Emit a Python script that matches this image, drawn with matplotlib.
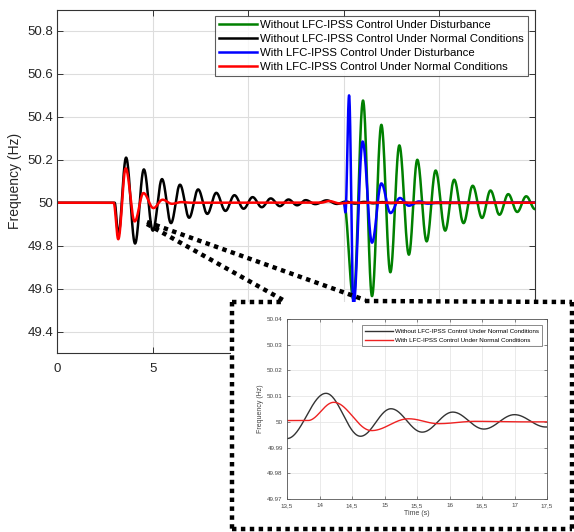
import numpy as np
import matplotlib
matplotlib.use("Agg")
import matplotlib.pyplot as plt
from matplotlib.lines import Line2D
from matplotlib.patches import Rectangle

plt.rcParams['font.family'] = ['Liberation Sans', 'DejaVu Sans']

# ---------------- data: turning points ----------------
# Without LFC-IPSS Control Under Disturbance (green)
green_t = [15.0, 15.5, 16.0, 16.47, 16.96, 17.43, 17.9, 18.4, 18.84, 19.33, 19.8,
           20.3, 20.77, 21.26, 21.74, 22.23, 22.67, 23.14, 23.6, 24.07, 24.54, 25.0]
green_f = [50.0, 49.55, 50.476, 49.565, 50.363, 49.676, 50.267, 49.758, 50.2, 49.82, 50.15,
           49.87, 50.107, 49.905, 50.079, 49.929, 50.057, 49.944, 50.04, 49.957, 50.03, 49.97]

# Without LFC-IPSS Control Under Normal Conditions (black)
black_t = [0.0, 3.0, 3.19, 3.6, 4.07, 4.53, 5.0, 5.48, 5.95, 6.42, 6.9, 7.37, 7.85, 8.32,
           8.8, 9.27, 9.75, 10.22, 10.7, 11.17, 11.65, 12.1, 12.55, 13.0, 13.5, 14.1,
           14.63, 15.1, 15.58, 16.05, 16.53, 17.0, 17.48, 17.95, 18.45, 25.0]
black_f = [50.0, 50.0, 49.85, 50.21, 49.81, 50.155, 49.87, 50.11, 49.905, 50.084, 49.93,
           50.062, 49.948, 50.046, 49.962, 50.035, 49.972, 50.026, 49.979, 50.02, 49.984,
           50.015, 49.988, 50.012, 49.9935, 50.0111, 49.9944, 50.0051, 49.996, 50.0038,
           49.9972, 50.0028, 49.998, 50.002, 49.9985, 50.0]

# With LFC-IPSS Control Under Disturbance (blue)
blue_t = [15.0, 15.08, 15.27, 15.5, 15.98, 16.47, 16.96, 17.44, 17.93, 18.4, 18.93,
          19.4, 19.9, 20.4, 25.0]
blue_f = [50.0, 49.955, 50.5, 49.52, 50.285, 49.814, 50.09, 49.952, 50.022, 49.986,
          50.006, 49.996, 50.001, 50.0, 50.0]

# With LFC-IPSS Control Under Normal Conditions (red)
red_t = [0.0, 2.95, 3.19, 3.58, 4.05, 4.51, 5.03, 5.51, 6.0, 6.5, 7.0, 13.5, 13.82,
         14.22, 14.8, 15.37, 15.83, 16.4, 17.0, 25.0]
red_f = [50.0, 50.0, 49.83, 50.16, 49.913, 50.045, 49.975, 50.014, 49.995, 50.003, 50.0,
         50.0005, 50.0005, 50.0076, 49.9966, 50.0012, 49.9993, 50.0002, 50.0, 50.0]

labels = ["Without LFC-IPSS Control Under Disturbance",
          "Without LFC-IPSS Control Under Normal Conditions",
          "With LFC-IPSS Control Under Disturbance",
          "With LFC-IPSS Control Under Normal Conditions"]

main_xticks = [0, 5, 10, 15, 20, 25]
main_yticks = [49.4, 49.6, 49.8, 50.0, 50.2, 50.4, 50.6, 50.8]
main_yticklabels = ["49.4", "49.6", "49.8", "50", "50.2", "50.4", "50.6", "50.8"]
inset_xticks = [13.5, 14, 14.5, 15, 15.5, 16, 16.5, 17, 17.5]
inset_xticklabels = ["13,5", "14", "14,5", "15", "15,5", "16", "16,5", "17", "17,5"]
inset_yticks = [49.97, 49.98, 49.99, 50.0, 50.01, 50.02, 50.03, 50.04]
inset_yticklabels = ["49.97", "49.98", "49.99", "50", "50.01", "50.02", "50.03", "50.04"]


def smooth(ts, vs, n=40):
    """Draw a smooth curve through the read turning points (half-cosine joins)."""
    out_t, out_v = [], []
    for t0, v0, t1, v1 in zip(ts[:-1], vs[:-1], ts[1:], vs[1:]):
        s = np.linspace(0, 1, n, endpoint=False)
        out_t.append(t0 + (t1 - t0) * s)
        out_v.append(v0 + (v1 - v0) * (1 - np.cos(np.pi * s)) / 2)
    out_t.append([ts[-1]])
    out_v.append([vs[-1]])
    return np.concatenate(out_t), np.concatenate(out_v)


W, H = 574, 532
fig = plt.figure(figsize=(W / 100, H / 100), dpi=100)


def fx(px):
    return px / W


def fy(py):
    return 1 - py / H


# ---------------- main axes ----------------
ax = fig.add_axes([fx(57.3), fy(353), fx(535) - fx(57.3), fy(9.5) - fy(353)])
ax.plot(*smooth(green_t, green_f), color='#008000', lw=1.8, label=labels[0])
ax.plot(*smooth(black_t, black_f), color='black', lw=1.8, label=labels[1])
ax.plot(*smooth(blue_t, blue_f), color='#0000ff', lw=1.8, label=labels[2])
ax.plot(*smooth(red_t, red_f), color='#ff0000', lw=1.8, label=labels[3])
ax.set_xlim(0, 25)
ax.set_ylim(49.3, 50.9)
ax.set_xticks(main_xticks)
ax.set_yticks(main_yticks)
ax.set_yticklabels(main_yticklabels)
ax.grid(True, color='#dddddd', lw=0.8)
ax.set_axisbelow(True)
for sp in ax.spines.values():
    sp.set_color('#333333')
    sp.set_linewidth(0.8)
ax.tick_params(direction='in', top=True, right=True, length=4, width=0.7,
               color='#333333', labelcolor='#262626', labelsize=9.5)
ax.tick_params(axis='x', pad=7)
ax.tick_params(axis='y', pad=3)
ax.set_ylabel("Frequency (Hz)", fontsize=10, color='#262626', labelpad=4)
leg = ax.legend(loc='upper right', bbox_to_anchor=(0.985, 0.982), fontsize=8.2,
                frameon=True, fancybox=False, handlelength=3.3, handletextpad=0.3,
                borderpad=0.35, labelspacing=0.35, borderaxespad=0)
leg.get_frame().set_edgecolor('#333333')
leg.get_frame().set_linewidth(0.8)

# ---------------- callout box and connector lines ----------------
lw_dot = 3.2
dash = dict(color='black', lw=lw_dot, linestyle=(0, (1, 1)), solid_capstyle='butt',
            dash_capstyle='butt', transform=fig.transFigure)
box = Rectangle((fx(231), fy(529)), fx(572) - fx(231), fy(302) - fy(529),
                transform=fig.transFigure, facecolor='white', edgecolor='none', zorder=1)
fig.add_artist(box)
segments = [
    ((232, 302), (232, 529)),
    ((232, 529), (572, 529)),
    ((572, 302), (572, 529)),
    ((232, 302), (283, 302)),
    ((365, 301), (572, 302)),
    ((147, 224), (283, 300)),
    ((147, 222), (365, 300)),
]
for (x0, y0), (x1, y1) in segments:
    fig.add_artist(Line2D([fx(x0), fx(x1)], [fy(y0), fy(y1)], zorder=1.5, **dash))

# ---------------- inset axes ----------------
ins = fig.add_axes([fx(287), fy(499), fx(547) - fx(287), fy(319) - fy(499)], zorder=2)
ins.plot(*smooth(black_t, black_f, 80), color='#333333', lw=1.0, label=labels[1])
ins.plot(*smooth(red_t, red_f, 80), color='#ee2222', lw=1.0, label=labels[3])
ins.set_xlim(13.5, 17.5)
ins.set_ylim(49.97, 50.04)
ins.set_xticks(inset_xticks)
ins.set_xticklabels(inset_xticklabels)
ins.set_yticks(inset_yticks)
ins.set_yticklabels(inset_yticklabels)
ins.grid(True, color='#e6e6e6', lw=0.6)
ins.set_axisbelow(True)
for sp in ins.spines.values():
    sp.set_color('#555555')
    sp.set_linewidth(0.6)
ins.tick_params(direction='in', top=True, right=True, length=2, width=0.5,
                color='#555555', labelcolor='#444444', labelsize=4.5, pad=3)
ins.set_xlabel("Time (s)", fontsize=5, color='#444444', labelpad=1)
ins.set_ylabel("Frequency (Hz)", fontsize=5, color='#444444', labelpad=2)
leg2 = ins.legend(loc='upper right', bbox_to_anchor=(0.98, 0.965), fontsize=4.5,
                  frameon=True, fancybox=False, handlelength=4.5, handletextpad=0.3,
                  borderpad=0.5, labelspacing=0.6, borderaxespad=0)
leg2.get_frame().set_edgecolor('#555555')
leg2.get_frame().set_linewidth(0.6)

fig.savefig("out.png", dpi=100)
